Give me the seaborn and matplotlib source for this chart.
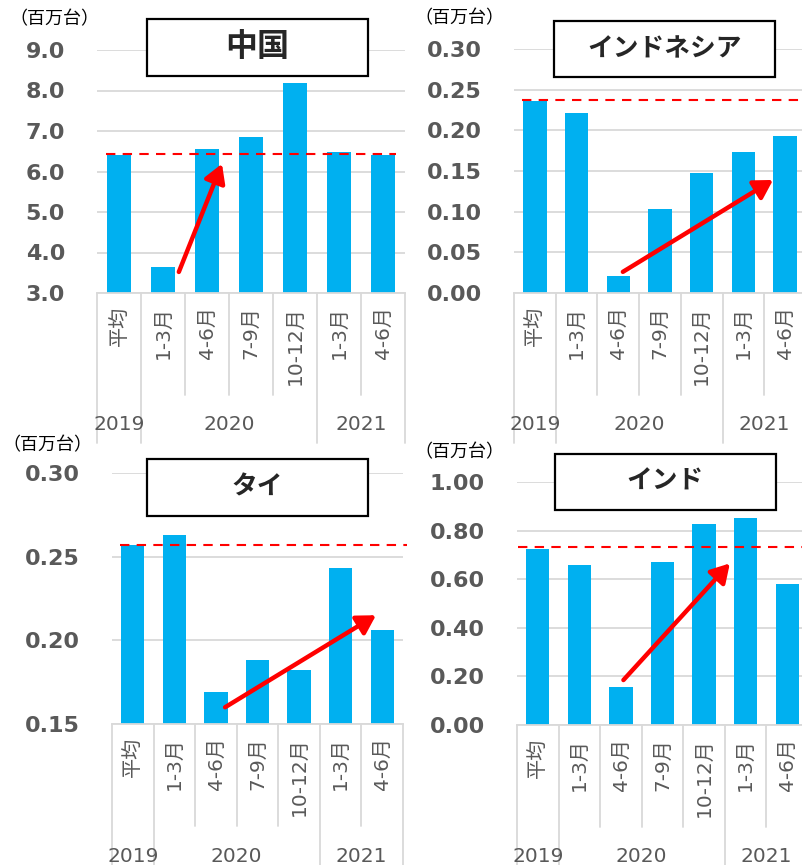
import numpy as np
import matplotlib.pyplot as plt
import seaborn as sns
from matplotlib.patches import Rectangle

# données
cats = ["平均", "1-3月", "4-6月", "7-9月", "10-12月", "1-3月", "4-6月"]
years = ["2019", "2020", "2021"]
year_pos = [0, 2.5, 5.5]
titles = ["中国", "インドネシア", "タイ", "インド"]
china = [6.41, 3.64, 6.56, 6.85, 8.18, 6.48, 6.41]
indonesia = [0.236, 0.221, 0.021, 0.103, 0.148, 0.173, 0.193]
thai = [0.257, 0.263, 0.169, 0.188, 0.182, 0.243, 0.206]
india = [0.726, 0.658, 0.155, 0.671, 0.829, 0.850, 0.582]
avg_2019 = [6.43, 0.237, 0.257, 0.733]
arrow_from = [(1.36, 3.52), (2.11, 0.026), (2.22, 0.160), (2.06, 0.185)]
arrow_to = [(2.34, 6.19), (5.71, 0.139), (5.85, 0.215), (4.62, 0.665)]
ylims = [(3, 9), (0, 0.30), (0.15, 0.30), (0, 1.0)]
ysteps = [1, 0.05, 0.05, 0.2]
yfmts = ["{:.1f}", "{:.2f}", "{:.2f}", "{:.2f}"]
series = [china, indonesia, thai, india]

sns.set_style("white")
plt.rcParams['font.family'] = ['DejaVu Sans', 'Noto Sans CJK JP']

W, H = 802, 865
fig = plt.figure(figsize=(W / 100, H / 100), dpi=100)

def rect(l, t, r, b):
    return [l / W, 1 - b / H, (r - l) / W, (b - t) / H]

# mise en page (pixels)
axes_px = [(97, 50, 405, 293), (514, 49, 806, 293), (112, 473, 403, 724), (517, 482, 808, 725)]
box_px = [(147, 19, 368, 76), (554, 21, 775, 77), (147, 459, 368, 516), (555, 454, 776, 510)]
unit_px = [(9, 19), (414, 18), (2, 445), (414, 452)]
dash_x = [(-0.3, 6.3), (-0.3, 7.0), (-0.3, 6.6), (-0.47, 7.0)]
title_sizes = [23, 18.5, 18.5, 18.5]

grey = '#595959'
light = '#D9D9D9'
blue = '#00B0F0'

for k in range(4):
    l, t, r, b = axes_px[k]
    ax = fig.add_axes(rect(l, t, r, b))
    ax_h = b - t

    sns.barplot(x=np.arange(7), y=series[k], color=blue, saturation=1,
                width=0.56, linewidth=0, ax=ax)

    lo, hi = ylims[k]
    ticks = np.arange(lo, hi + ysteps[k] / 2, ysteps[k])
    ax.set_ylim(lo, hi)
    ax.set_xlim(-0.5, 6.5)
    ax.set_yticks(ticks)
    ax.set_yticklabels([yfmts[k].format(v) for v in ticks], fontsize=16,
                       fontweight='bold', color=grey)
    ax.tick_params(axis='y', length=0, pad=23)
    ax.set_xticks([])
    ax.set_xlabel('')
    ax.set_ylabel('')
    ax.yaxis.grid(True, color=light, lw=1.3)
    ax.set_axisbelow(True)
    for s in ['top', 'left', 'right']:
        ax.spines[s].set_visible(False)
    ax.spines['bottom'].set_color(light)
    ax.spines['bottom'].set_linewidth(1.3)

    # ligne moyenne 2019
    ax.hlines(avg_2019[k], dash_x[k][0], dash_x[k][1], colors='#FF0000',
              linestyles=(0, (4.5, 3.5)), lw=1.5, clip_on=False, zorder=3)

    # flèche de reprise
    ax.annotate("", xy=arrow_to[k], xytext=arrow_from[k],
                arrowprops=dict(arrowstyle="-|>,head_length=0.85,head_width=0.5",
                                color='#FF0000', lw=3.2, shrinkA=0, shrinkB=0,
                                mutation_scale=13), zorder=4)

    # axe à deux niveaux
    tr = ax.get_xaxis_transform()
    for xs in [-0.5, 0.5, 4.5, 6.5]:
        ax.plot([xs, xs], [0, -150 / ax_h], color=light, lw=1.3, transform=tr, clip_on=False)
    for xs in [1.5, 2.5, 3.5, 5.5]:
        ax.plot([xs, xs], [0, -102 / ax_h], color=light, lw=1.3, transform=tr, clip_on=False)
    for i, c in enumerate(cats):
        ax.text(i, -13 / ax_h, c, transform=tr, rotation=90, ha='center', va='top',
                fontsize=14.5, color=grey)
    for p, yr in zip(year_pos, years):
        ax.text(p, -132 / ax_h, yr, transform=tr, ha='center', va='center',
                fontsize=14.5, color=grey)

    # unité
    ux, uy = unit_px[k]
    fig.text(ux / W, 1 - uy / H, "（百万台）", ha='left', va='center', fontsize=13,
             color='black')

    # encadré du titre
    bl, bt, br, bb = box_px[k]
    fig.patches.append(Rectangle((bl / W, 1 - bb / H), (br - bl) / W, (bb - bt) / H,
                                 transform=fig.transFigure, facecolor='white',
                                 edgecolor='black', lw=1.6, zorder=5))
    fig.text((bl + br) / 2 / W, 1 - (bt + bb) / 2 / H, titles[k], ha='center',
             va='center', fontsize=title_sizes[k], fontweight='bold', zorder=6)

plt.savefig('out.png', dpi=100)
